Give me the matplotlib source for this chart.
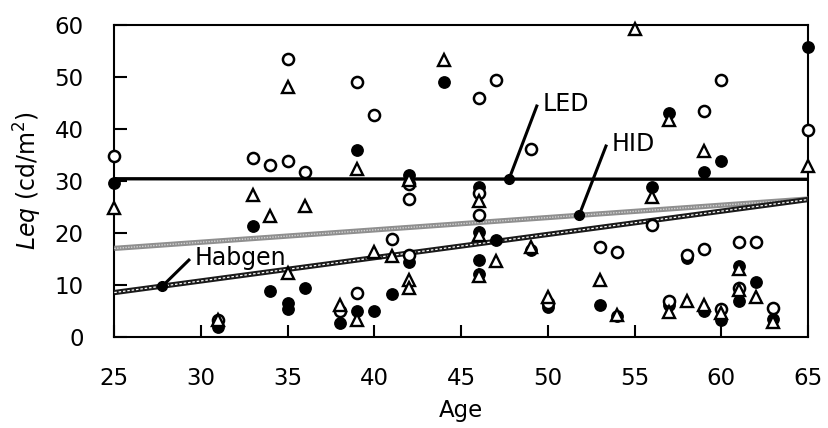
import numpy as np
import matplotlib
matplotlib.use("Agg")
import matplotlib.pyplot as plt

# ---------------- data ----------------
filled_age = [25, 31, 33, 34, 35, 35, 36, 38, 39, 39, 40, 41, 42, 42, 44, 46, 46, 46, 46,
              47, 49, 50, 53, 54, 56, 57, 57, 58, 59, 59, 60, 60, 61, 61, 62, 63, 65]
filled_leq = [29.5, 1.9, 21.3, 8.8, 6.5, 5.3, 9.3, 2.6, 35.9, 5.0, 5.0, 8.2, 31.2, 14.4, 49.0,
              28.8, 20.2, 14.8, 12.1, 18.6, 16.7, 5.7, 6.1, 3.9, 28.8, 43.0, 6.1, 15.2,
              31.7, 5.0, 33.9, 3.2, 13.6, 6.9, 10.6, 3.5, 55.7]

open_age = [25, 31, 33, 34, 35, 35, 36, 38, 39, 39, 40, 41, 42, 42, 42, 46, 46, 46,
            47, 49, 50, 53, 54, 56, 57, 58, 59, 59, 60, 60, 61, 61, 62, 63, 65]
open_leq = [34.8, 3.2, 34.4, 33.0, 53.5, 33.8, 31.7, 5.0, 49.0, 8.5, 42.6, 18.9, 29.3, 26.6, 15.7,
            46.0, 27.6, 23.4, 49.4, 36.2, 6.4, 17.3, 16.3, 21.5, 6.9, 15.7, 43.5, 16.8,
            49.4, 5.3, 18.3, 9.3, 18.3, 5.5, 39.8]

tri_age = [25, 31, 33, 34, 35, 35, 36, 38, 39, 39, 40, 41, 42, 42, 42, 44, 46, 46, 46,
           47, 49, 50, 53, 54, 55, 56, 57, 57, 58, 59, 59, 60, 61, 61, 62, 63, 65]
tri_leq = [24.7, 3.2, 27.2, 23.2, 48.1, 12.2, 25.1, 6.1, 32.3, 3.2, 16.3, 15.5, 30.2, 10.9, 9.3,
           53.3, 26.2, 19.6, 11.7, 14.6, 17.3, 7.6, 10.9, 4.2, 59.2, 26.9, 41.7, 4.7, 6.9,
           35.7, 6.1, 4.5, 13.0, 9.0, 7.7, 2.9, 32.9]

line_age = [25, 65]
led_line = [30.4, 30.3]
hid_line = [17.0, 26.5]
habgen_line = [8.5, 26.4]

x_ticks = [25, 30, 35, 40, 45, 50, 55, 60, 65]
y_ticks = [0, 10, 20, 30, 40, 50, 60]

# ---------------- style ----------------
plt.rcParams['font.family'] = ['DejaVu Sans']
plt.rcParams['mathtext.fontset'] = 'dejavusans'

fig = plt.figure(figsize=(8.29, 4.28), dpi=100)
ax = fig.add_axes([0.1379, 0.2133, 0.8368, 0.7283])

ax.set_xlim(25, 65)
ax.set_ylim(0, 60)

# regression lines
ax.plot(line_age, led_line, color='black', lw=2.4, zorder=3, solid_capstyle='butt')
ax.plot(line_age, hid_line, color='#8f8f8f', lw=3.8, zorder=3, solid_capstyle='butt')
ax.plot(line_age, hid_line, color='#d4d4d4', lw=1.0, ls=(0, (1, 1)), zorder=3)
ax.plot(line_age, habgen_line, color='#1a1a1a', lw=3.8, zorder=3, solid_capstyle='butt')
ax.plot(line_age, habgen_line, color='white', lw=0.9, ls=(0, (2, 1.5)), zorder=3)

# scatter points
ax.plot(filled_age, filled_leq, ls='none', marker='o', ms=8.2, mfc='black', mec='black',
        mew=1.0, zorder=4, clip_on=False)
ax.plot(open_age, open_leq, ls='none', marker='o', ms=8.0, mfc='white', mec='black',
        mew=1.8, zorder=5, clip_on=False)
ax.plot(tri_age, tri_leq, ls='none', marker='^', ms=9.0, mfc='white', mec='black',
        mew=1.7, zorder=6, clip_on=False)

# annotations (label, leader top, dot age, line, text position)
fs = 16.5
annots = [
    ('LED', (49.36, 44.4), 47.76, led_line, (49.7, 44.7)),
    ('HID', (53.35, 36.7), 51.8, hid_line, (53.7, 37.1)),
    ('Habgen', (29.3, 14.75), 27.77, habgen_line, (29.65, 15.2)),
]
for label, top, dot_x, line_vals, txt_pos in annots:
    dot_y = float(np.interp(dot_x, line_age, line_vals))
    ax.plot([dot_x, top[0]], [dot_y, top[1]], color='black', lw=2.2, zorder=7)
    ax.plot([dot_x], [dot_y], marker='o', ms=7, color='black', zorder=7)
    ax.text(txt_pos[0], txt_pos[1], label, fontsize=fs + 0.5, ha='left', va='center', zorder=8)

# axes styling
for side in ['left', 'bottom', 'top', 'right']:
    ax.spines[side].set_linewidth(1.5)
    ax.spines[side].set_color('black')
ax.set_xticks(x_ticks)
ax.set_yticks(y_ticks)
ax.tick_params(axis='both', direction='in', length=9, width=1.5, labelsize=fs,
               top=False, right=False)
ax.tick_params(axis='x', pad=22)
ax.tick_params(axis='y', pad=22)

ax.set_xlabel('Age', fontsize=fs, labelpad=6)
ax.set_ylabel(r'$\mathit{Leq}$' + ' (cd/m$^{2}$)', fontsize=17, labelpad=8)

fig.savefig('out.png', dpi=100)
